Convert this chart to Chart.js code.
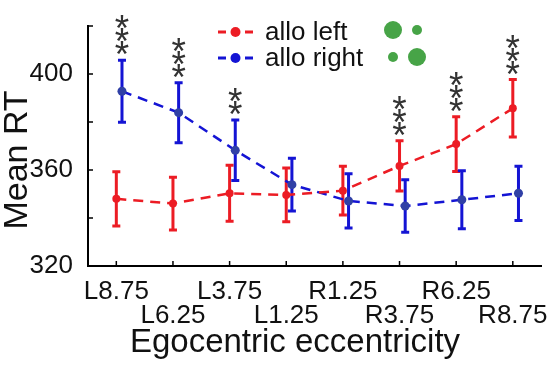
<!DOCTYPE html>
<html>
<head>
<meta charset="utf-8">
<script src="https://cdn.jsdelivr.net/npm/chart.js@4.4.0/dist/chart.umd.min.js"></script>
<style>
html, body { margin: 0; padding: 0; background: #fff; }
#wrap { width: 554px; height: 365px; }
</style>
</head>
<body>
<div id="wrap"><canvas id="rtChart"></canvas></div>
<script>
// DATA
const categories = ['L8.75', 'L6.25', 'L3.75', 'L1.25', 'R1.25', 'R3.75', 'R6.25', 'R8.75'];
const alloLeft = [348.0, 346.0, 350.3, 349.6, 351.4, 361.7, 370.8, 385.7];
const alloLeftErr = [11.3, 11.0, 11.7, 11.2, 10.2, 10.5, 11.4, 12.0];
const alloRight = [392.8, 383.9, 368.2, 353.9, 347.1, 345.0, 347.6, 350.3];
const alloRightErr = [12.9, 12.5, 12.6, 11.0, 11.3, 10.9, 12.1, 11.3];
// number of stars per category, and which series (0 = left, 1 = right) they sit over
const starCount = [3, 3, 2, 0, 0, 3, 3, 3];
const starSeries = [1, 1, 1, null, null, 0, 0, 0];
const yTicks = [320, 340, 360, 380, 400, 420];
const yLabels = [320, 360, 400];

// STYLE
const RED = '#ec1c24';
const BLUE = '#1414d4';
const BLUE_DOT = '#3040a6';
const GREEN = '#47a447';
const FONT = '"Liberation Sans", Arial, sans-serif';
const blueShift = 0.1; // right series is nudged a little to the right of the tick
Chart.defaults.font.family = FONT;
Chart.defaults.color = '#111';

let ctx = document.getElementById('rtChart').getContext('2d');

// ERROR BARS, TICK MARKS, STARS, LEGEND AND AXIS TITLES
const decor = {
	id: 'decor',
	beforeDatasetsDraw(chart) {
		let c = chart.ctx;
		let ys = chart.scales.y;
		chart.data.datasets.forEach((ds, d) => {
			let meta = chart.getDatasetMeta(d);
			c.save();
			c.strokeStyle = ds.borderColor;
			c.lineWidth = 3;
			meta.data.forEach((pt, i) => {
				let top = ys.getPixelForValue(ds.yVals[i] + ds.err[i]);
				let bot = ys.getPixelForValue(ds.yVals[i] - ds.err[i]);
				c.beginPath();
				c.moveTo(pt.x, top); c.lineTo(pt.x, bot);
				c.moveTo(pt.x - 4, top); c.lineTo(pt.x + 4, top);
				c.moveTo(pt.x - 4, bot); c.lineTo(pt.x + 4, bot);
				c.stroke();
			});
			c.restore();
		});
	},
	afterDatasetsDraw(chart) {
		let c = chart.ctx;
		let xs = chart.scales.x, ys = chart.scales.y;
		let area = chart.chartArea;
		c.save();

		// inward tick marks
		c.strokeStyle = '#000';
		c.lineWidth = 1.5;
		c.beginPath();
		yTicks.forEach(v => {
			let py = ys.getPixelForValue(v);
			c.moveTo(area.left, py); c.lineTo(area.left + 5, py);
		});
		categories.forEach((cat, i) => {
			let px = xs.getPixelForValue(i + 1);
			c.moveTo(px, area.bottom); c.lineTo(px, area.bottom - 5);
		});
		c.stroke();

		// significance stars
		c.fillStyle = '#333';
		c.font = '37px ' + FONT;
		c.textAlign = 'center';
		c.textBaseline = 'alphabetic';
		let m = c.measureText('*');
		let mid = (m.actualBoundingBoxAscent - m.actualBoundingBoxDescent) / 2;
		starCount.forEach((n, i) => {
			if (!n) return;
			let ds = chart.data.datasets[starSeries[i]];
			let pt = chart.getDatasetMeta(starSeries[i]).data[i];
			let top = ys.getPixelForValue(ds.yVals[i] + ds.err[i]);
			for (let k = 0; k < n; k++) {
				c.fillText('*', pt.x, top - 12 - k * 13 + mid);
			}
		});

		// legend
		c.textAlign = 'left';
		c.textBaseline = 'middle';
		c.font = '26px ' + FONT;
		chart.data.datasets.forEach((ds, d) => {
			let ly = 32 + d * 26;
			c.strokeStyle = ds.borderColor;
			c.lineWidth = 3;
			c.beginPath();
			c.moveTo(218, ly); c.lineTo(226, ly);
			c.moveTo(245, ly); c.lineTo(253, ly);
			c.stroke();
			c.fillStyle = ds.borderColor;
			c.beginPath(); c.arc(235.5, ly, 5, 0, Math.PI * 2); c.fill();
			c.fillStyle = '#111';
			c.fillText(ds.label, 265, ly + 1);
		});
		c.fillStyle = GREEN;
		[[393, 30, 9], [417, 30, 5], [393, 57, 5], [417, 57, 9]].forEach(g => {
			c.beginPath(); c.arc(g[0], g[1], g[2], 0, Math.PI * 2); c.fill();
		});

		// axis titles
		c.fillStyle = '#111';
		c.font = '33px ' + FONT;
		c.textAlign = 'center';
		c.textBaseline = 'alphabetic';
		c.fillText('Egocentric eccentricity', 295, 352);
		c.translate(27, 160);
		c.rotate(-Math.PI / 2);
		c.font = '34px ' + FONT;
		c.fillText('Mean RT', 0, 0);
		c.restore();
	}
};

let rtChart = new Chart(ctx, {
	type: 'line',
	data: {
		datasets: [{
			label: 'allo left',
			data: alloLeft.map((v, i) => ({ x: i + 1, y: v })),
			yVals: alloLeft,
			err: alloLeftErr,
			borderColor: RED,
			backgroundColor: RED,
			borderWidth: 2.5,
			borderDash: [10, 7],
			pointRadius: 4,
			pointBorderWidth: 0,
			pointBackgroundColor: RED
		}, {
			label: 'allo right',
			data: alloRight.map((v, i) => ({ x: i + 1 + blueShift, y: v })),
			yVals: alloRight,
			err: alloRightErr,
			borderColor: BLUE,
			backgroundColor: BLUE,
			borderWidth: 2.5,
			borderDash: [10, 7],
			pointRadius: 4.5,
			pointBorderWidth: 0,
			pointBackgroundColor: BLUE_DOT
		}]
	},
	options: {
		responsive: true,
		maintainAspectRatio: false,
		animation: false,
		devicePixelRatio: 1,
		layout: { padding: { top: 26, right: 8, left: 0, bottom: 0 } },
		plugins: { legend: { display: false }, tooltip: { enabled: false } },
		scales: {
			x: {
				type: 'linear',
				min: 0.5,
				max: 8.5,
				afterBuildTicks: s => { s.ticks = categories.map((c, i) => ({ value: i + 1 })); },
				afterFit: s => { s.height = 99; },
				grid: { display: false },
				border: { color: '#000', width: 2 },
				ticks: {
					autoSkip: false,
					maxRotation: 0,
					padding: 6,
					color: '#111',
					font: { size: 26, lineHeight: '24px' },
					callback: v => {
						let i = Math.round(v) - 1;
						return i % 2 === 0 ? [categories[i], ''] : ['', categories[i]];
					}
				}
			},
			y: {
				min: 320,
				max: 420,
				afterBuildTicks: s => { s.ticks = yTicks.map(v => ({ value: v })); },
				afterFit: s => { s.width = 88; },
				grid: { display: false },
				border: { color: '#000', width: 2 },
				ticks: {
					padding: 7,
					color: '#111',
					font: { size: 26 },
					callback: v => yLabels.includes(v) ? String(v) : ''
				}
			}
		}
	},
	plugins: [decor]
});
</script>
</body>
</html>
